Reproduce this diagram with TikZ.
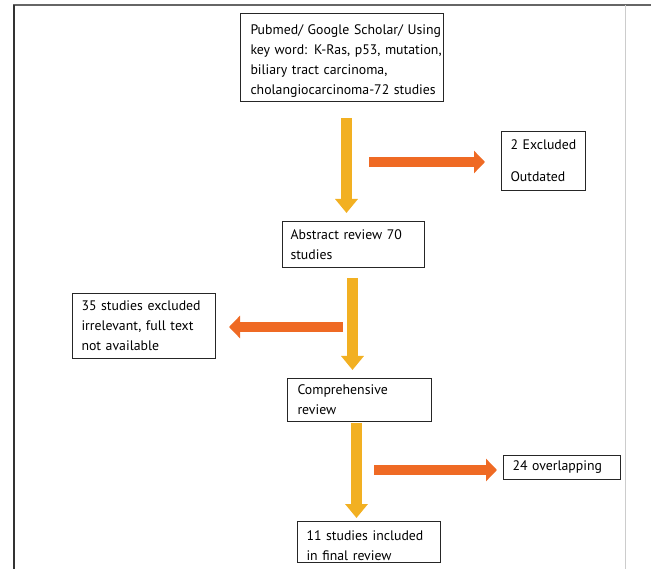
\documentclass[tikz,border=0pt]{standalone}
\usepackage{fontspec}
\setmainfont{PT Sans}
\usetikzlibrary{arrows.meta}
\definecolor{yel}{HTML}{F2B022}
\definecolor{org}{HTML}{EF6A24}
\newcommand{\lowerby}[1]{\rule{0pt}{#1}}
\begin{document}
\begin{tikzpicture}[x=1pt,y=-1pt,
  box/.style={draw=black!85, line width=1pt, anchor=north west, inner ysep=0pt,
    align=left, font=\fontsize{13.8}{20}\selectfont},
  yarrow/.style={draw=yel, line width=11pt, -{Triangle[width=22pt,length=14pt]}},
  oarrow/.style={draw=org, line width=10pt, -{Triangle[width=22pt,length=11pt]}}]
\useasboundingbox (0,0) rectangle (651,569);
% frame lines
\draw[black!60, line width=2pt] (13,5) -- (651,5);
\draw[black!80, line width=1.5pt] (14,5) -- (14,569);
\draw[black!20, line width=0.8pt] (625,5) -- (625,569);
% boxes
\node[box, inner xsep=10pt, text width=183pt, minimum height=88pt] (b1) at (240,13)
  {\mbox{\lowerby{16pt}Pubmed/ Google Scholar/ Using}\\ \mbox{key word: K-Ras, p53, mutation,}\\ \mbox{biliary tract carcinoma,}\\ \mbox{cholangiocarcinoma-72 studies}};
\node[box, inner xsep=9pt, text width=66pt, minimum height=59pt] (b2) at (501,131)
  {\mbox{2 Excluded}\\[12pt] Outdated};
\node[box, inner xsep=8pt, text width=126pt, minimum height=46pt] (b3) at (282,221)
  {\mbox{Abstract review 70}\\ studies};
\node[box, inner xsep=9pt, text width=125pt, minimum height=65pt] (b4) at (72,293)
  {\mbox{35 studies excluded}\\ \mbox{irrelevant, full text}\\ \mbox{not available}};
\node[box, inner xsep=10pt, text width=124pt, minimum height=43pt] (b5) at (287,378)
  {Comprehensive\\ review};
\node[box, inner xsep=9pt, text width=99pt, minimum height=24pt] (b6) at (503,455)
  {\mbox{24 overlapping}};
\node[box, inner xsep=9pt, text width=125pt, minimum height=41pt] (b7) at (297,521)
  {\mbox{\lowerby{18pt}11 studies included}\\ \mbox{in final review}};
% yellow flow arrows
\coordinate (y1) at ([xshift=4.5pt,yshift=-16pt]b1.south);
\draw[yarrow, shorten >=8pt] (y1) -- (y1 |- b3.north);
\coordinate (y2) at ([xshift=-1pt,yshift=-10pt]b3.south);
\draw[yarrow, shorten >=8pt] (y2) -- (y2 |- b5.north);
\coordinate (y3) at ([xshift=-3pt,yshift=-1pt]b5.south);
\draw[yarrow, shorten >=3pt] (y3) -- (y3 |- b7.north);
% orange exclusion arrows
\coordinate (o1) at (369,162);
\draw[oarrow, shorten >=16pt] (o1) -- (o1 -| b2.west);
\coordinate (o2) at (343,327);
\draw[oarrow, shorten >=13pt] (o2) -- (o2 -| b4.east);
\coordinate (o3) at (374,470);
\draw[oarrow, shorten >=6pt] (o3) -- (o3 -| b6.west);
\end{tikzpicture}
\end{document}
